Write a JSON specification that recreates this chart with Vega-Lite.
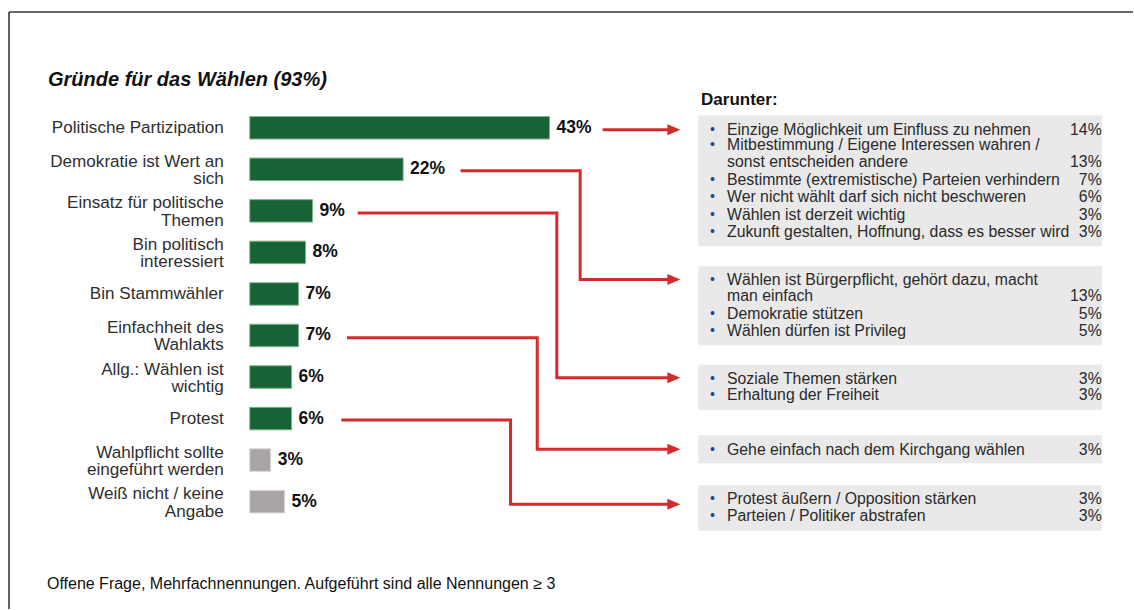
{
  "$schema": "https://vega.github.io/schema/vega-lite/v6.json",
  "width": 1134,
  "height": 610,
  "autosize": {"type": "fit", "contains": "padding"},
  "padding": 0,
  "background": "white",
  "config": {
    "view": {"stroke": null},
    "axis": {"disable": true},
    "text": {"font": "Liberation Sans"}
  },
  "datasets": {
    "bars": [
      {"label": "Politische Partizipation", "pct": 43, "rank": 0, "kind": "Grund"},
      {"label": "Demokratie ist Wert an\nsich", "pct": 22, "rank": 1, "kind": "Grund"},
      {"label": "Einsatz für politische\nThemen", "pct": 9, "rank": 2, "kind": "Grund"},
      {"label": "Bin politisch\ninteressiert", "pct": 8, "rank": 3, "kind": "Grund"},
      {"label": "Bin Stammwähler", "pct": 7, "rank": 4, "kind": "Grund"},
      {"label": "Einfachheit des\nWahlakts", "pct": 7, "rank": 5, "kind": "Grund"},
      {"label": "Allg.: Wählen ist\nwichtig", "pct": 6, "rank": 6, "kind": "Grund"},
      {"label": "Protest", "pct": 6, "rank": 7, "kind": "Grund"},
      {"label": "Wahlpflicht sollte\neingeführt werden", "pct": 3, "rank": 8, "kind": "Sonstige"},
      {"label": "Weiß nicht / keine\nAngabe", "pct": 5, "rank": 9, "kind": "Sonstige"}
    ],
    "boxes": [
      {"box": 1, "top": -0.296, "bottom": 2.853},
      {"box": 2, "top": 3.333, "bottom": 5.232},
      {"box": 3, "top": 5.696, "bottom": 6.794},
      {"box": 4, "top": 7.402, "bottom": 8.075},
      {"box": 5, "top": 8.604, "bottom": 9.702}
    ],
    "details": [
      {"box": 1, "text": "Einzige Möglichkeit um Einfluss zu nehmen", "share": 14, "bullet": true, "y": 0.048},
      {"box": 1, "text": "Mitbestimmung / Eigene Interessen wahren /", "share": null, "bullet": true, "y": 0.425},
      {"box": 1, "text": "sonst entscheiden andere", "share": 13, "bullet": false, "y": 0.834},
      {"box": 1, "text": "Bestimmte (extremistische) Parteien verhindern", "share": 7, "bullet": true, "y": 1.25},
      {"box": 1, "text": "Wer nicht wählt darf sich nicht beschweren", "share": 6, "bullet": true, "y": 1.675},
      {"box": 1, "text": "Wählen ist derzeit wichtig", "share": 3, "bullet": true, "y": 2.091},
      {"box": 1, "text": "Zukunft gestalten, Hoffnung, dass es besser wird", "share": 3, "bullet": true, "y": 2.516},
      {"box": 2, "text": "Wählen ist Bürgerpflicht, gehört dazu, macht", "share": null, "bullet": true, "y": 3.67},
      {"box": 2, "text": "man einfach", "share": 13, "bullet": false, "y": 4.061},
      {"box": 2, "text": "Demokratie stützen", "share": 5, "bullet": true, "y": 4.477},
      {"box": 2, "text": "Wählen dürfen ist Privileg", "share": 5, "bullet": true, "y": 4.895},
      {"box": 3, "text": "Soziale Themen stärken", "share": 3, "bullet": true, "y": 6.039},
      {"box": 3, "text": "Erhaltung der Freiheit", "share": 3, "bullet": true, "y": 6.434},
      {"box": 4, "text": "Gehe einfach nach dem Kirchgang wählen", "share": 3, "bullet": true, "y": 7.755},
      {"box": 5, "text": "Protest äußern / Opposition stärken", "share": 3, "bullet": true, "y": 8.94},
      {"box": 5, "text": "Parteien / Politiker abstrafen", "share": 3, "bullet": true, "y": 9.341}
    ],
    "arrows": [
      {"arrow": 1, "step": 1, "x": 50.62, "y": 0.048, "head": false},
      {"arrow": 1, "step": 2, "x": 60.84, "y": 0.048, "head": true},
      {"arrow": 2, "step": 1, "x": 30.24, "y": 1.033, "head": false},
      {"arrow": 2, "step": 2, "x": 47.4, "y": 1.033, "head": false},
      {"arrow": 2, "step": 3, "x": 47.4, "y": 3.653, "head": false},
      {"arrow": 2, "step": 4, "x": 60.84, "y": 3.653, "head": true},
      {"arrow": 3, "step": 1, "x": 15.48, "y": 2.05, "head": false},
      {"arrow": 3, "step": 2, "x": 44.05, "y": 2.05, "head": false},
      {"arrow": 3, "step": 3, "x": 44.05, "y": 6.015, "head": false},
      {"arrow": 3, "step": 4, "x": 60.84, "y": 6.015, "head": true},
      {"arrow": 4, "step": 1, "x": 13.95, "y": 5.054, "head": false},
      {"arrow": 4, "step": 2, "x": 41.24, "y": 5.054, "head": false},
      {"arrow": 4, "step": 3, "x": 41.24, "y": 7.739, "head": false},
      {"arrow": 4, "step": 4, "x": 60.84, "y": 7.739, "head": true},
      {"arrow": 5, "step": 1, "x": 13.14, "y": 7.034, "head": false},
      {"arrow": 5, "step": 2, "x": 37.41, "y": 7.034, "head": false},
      {"arrow": 5, "step": 3, "x": 37.41, "y": 9.06, "head": false},
      {"arrow": 5, "step": 4, "x": 60.84, "y": 9.06, "head": true}
    ]
  },
  "layer": [
    {
      "data": {"values": [{"part": "top"}]},
      "mark": {"type": "rule", "color": "#3a3a3a", "strokeWidth": 1.6},
      "encoding": {
        "x": {"datum": -34.54, "type": "quantitative", "scale": {"domain": [-35.833, 126.71], "nice": false, "zero": false, "padding": 0}},
        "x2": {"datum": 126.71},
        "y": {"datum": -2.788, "type": "quantitative", "scale": {"domain": [-3.0762, 11.5838], "nice": false, "zero": false, "reverse": true, "padding": 0}}
      }
    },
    {
      "data": {"values": [{"part": "left"}]},
      "mark": {"type": "rule", "color": "#3a3a3a", "strokeWidth": 1.6},
      "encoding": {
        "x": {"datum": -34.54, "type": "quantitative", "scale": {"domain": [-35.833, 126.71], "nice": false, "zero": false, "padding": 0}},
        "y": {"datum": -2.788, "type": "quantitative", "scale": {"domain": [-3.0762, 11.5838], "nice": false, "zero": false, "reverse": true, "padding": 0}},
        "y2": {"datum": 11.5838}
      }
    },
    {
      "data": {"name": "boxes"},
      "mark": {"type": "rect", "color": "#e9e9e9"},
      "encoding": {
        "x": {"datum": 64.36, "type": "quantitative", "scale": {"domain": [-35.833, 126.71], "nice": false, "zero": false, "padding": 0}},
        "x2": {"datum": 122.26},
        "y": {"field": "top", "type": "quantitative", "scale": {"domain": [-3.0762, 11.5838], "nice": false, "zero": false, "reverse": true, "padding": 0}},
        "y2": {"field": "bottom"}
      }
    },
    {
      "data": {"name": "bars"},
      "mark": {"type": "bar", "orient": "horizontal", "height": 22.5, "strokeWidth": 1},
      "encoding": {
        "x": {"field": "pct", "type": "quantitative", "scale": {"domain": [-35.833, 126.71], "nice": false, "zero": false, "padding": 0}},
        "x2": {"datum": 0},
        "y": {"field": "rank", "type": "quantitative", "scale": {"domain": [-3.0762, 11.5838], "nice": false, "zero": false, "reverse": true, "padding": 0}},
        "fill": {"field": "kind", "type": "nominal", "scale": {"domain": ["Grund", "Sonstige"], "range": ["#176336", "#a9a5a4"]}, "legend": null},
        "stroke": {"field": "kind", "type": "nominal", "scale": {"domain": ["Grund", "Sonstige"], "range": ["#7fb38a", "#d9d6d5"]}, "legend": null}
      }
    },
    {
      "data": {"name": "bars"},
      "transform": [{"calculate": "datum.pct + '%'", "as": "pctLabel"}],
      "mark": {"type": "text", "align": "left", "baseline": "middle", "dx": 7, "fontWeight": "bold", "fontSize": 17.5, "color": "#111111"},
      "encoding": {
        "x": {"field": "pct", "type": "quantitative", "scale": {"domain": [-35.833, 126.71], "nice": false, "zero": false, "padding": 0}},
        "y": {"field": "rank", "type": "quantitative", "scale": {"domain": [-3.0762, 11.5838], "nice": false, "zero": false, "reverse": true, "padding": 0}},
        "text": {"field": "pctLabel"}
      }
    },
    {
      "data": {"name": "bars"},
      "transform": [{"filter": "indexof(datum.label, '\\n') < 0"}],
      "mark": {"type": "text", "align": "right", "baseline": "middle", "fontSize": 17.1, "color": "#2e2e2e"},
      "encoding": {
        "x": {"datum": -3.73, "type": "quantitative", "scale": {"domain": [-35.833, 126.71], "nice": false, "zero": false, "padding": 0}},
        "y": {"field": "rank", "type": "quantitative", "scale": {"domain": [-3.0762, 11.5838], "nice": false, "zero": false, "reverse": true, "padding": 0}},
        "text": {"field": "label"}
      }
    },
    {
      "data": {"name": "bars"},
      "transform": [{"filter": "indexof(datum.label, '\\n') >= 0"}],
      "mark": {"type": "text", "align": "right", "baseline": "middle", "lineBreak": "\n", "lineHeight": 17.5, "dy": -7.5, "fontSize": 17.1, "color": "#2e2e2e"},
      "encoding": {
        "x": {"datum": -3.73, "type": "quantitative", "scale": {"domain": [-35.833, 126.71], "nice": false, "zero": false, "padding": 0}},
        "y": {"field": "rank", "type": "quantitative", "scale": {"domain": [-3.0762, 11.5838], "nice": false, "zero": false, "reverse": true, "padding": 0}},
        "text": {"field": "label"}
      }
    },
    {
      "data": {"name": "arrows"},
      "mark": {"type": "line", "color": "#d42a2e", "strokeWidth": 3, "strokeJoin": "miter", "strokeCap": "butt"},
      "encoding": {
        "x": {"field": "x", "type": "quantitative", "scale": {"domain": [-35.833, 126.71], "nice": false, "zero": false, "padding": 0}},
        "y": {"field": "y", "type": "quantitative", "scale": {"domain": [-3.0762, 11.5838], "nice": false, "zero": false, "reverse": true, "padding": 0}},
        "detail": {"field": "arrow", "type": "nominal"},
        "order": {"field": "step", "type": "quantitative"}
      }
    },
    {
      "data": {"name": "arrows"},
      "transform": [{"filter": "datum.head"}],
      "mark": {"type": "point", "shape": "M-1,-0.85L1,0L-1,0.85Z", "filled": true, "color": "#d42a2e", "size": 169, "opacity": 1},
      "encoding": {
        "x": {"field": "x", "type": "quantitative", "scale": {"domain": [-35.833, 126.71], "nice": false, "zero": false, "padding": 0}},
        "y": {"field": "y", "type": "quantitative", "scale": {"domain": [-3.0762, 11.5838], "nice": false, "zero": false, "reverse": true, "padding": 0}}
      }
    },
    {
      "data": {"name": "details"},
      "mark": {"type": "text", "align": "left", "baseline": "middle", "fontSize": 15.8, "color": "#2a2a2a"},
      "encoding": {
        "x": {"datum": 68.47, "type": "quantitative", "scale": {"domain": [-35.833, 126.71], "nice": false, "zero": false, "padding": 0}},
        "y": {"field": "y", "type": "quantitative", "scale": {"domain": [-3.0762, 11.5838], "nice": false, "zero": false, "reverse": true, "padding": 0}},
        "text": {"field": "text"}
      }
    },
    {
      "data": {"name": "details"},
      "transform": [{"filter": "datum.bullet"}],
      "mark": {"type": "text", "align": "center", "baseline": "middle", "fontSize": 14, "color": "#1f43a3", "text": "•"},
      "encoding": {
        "x": {"datum": 66.36, "type": "quantitative", "scale": {"domain": [-35.833, 126.71], "nice": false, "zero": false, "padding": 0}},
        "y": {"field": "y", "type": "quantitative", "scale": {"domain": [-3.0762, 11.5838], "nice": false, "zero": false, "reverse": true, "padding": 0}}
      }
    },
    {
      "data": {"name": "details"},
      "transform": [{"filter": "datum.share != null"}, {"calculate": "datum.share + '%'", "as": "shareLabel"}],
      "mark": {"type": "text", "align": "right", "baseline": "middle", "fontSize": 15.8, "color": "#2a2a2a"},
      "encoding": {
        "x": {"datum": 122.22, "type": "quantitative", "scale": {"domain": [-35.833, 126.71], "nice": false, "zero": false, "padding": 0}},
        "y": {"field": "y", "type": "quantitative", "scale": {"domain": [-3.0762, 11.5838], "nice": false, "zero": false, "reverse": true, "padding": 0}},
        "text": {"field": "shareLabel"}
      }
    },
    {
      "data": {"values": [{"t": "Gründe für das Wählen (93%)"}]},
      "mark": {"type": "text", "align": "left", "baseline": "middle", "fontSize": 20, "fontWeight": "bold", "fontStyle": "italic", "color": "#111111"},
      "encoding": {
        "x": {"datum": -28.95, "type": "quantitative", "scale": {"domain": [-35.833, 126.71], "nice": false, "zero": false, "padding": 0}},
        "y": {"datum": -1.154, "type": "quantitative", "scale": {"domain": [-3.0762, 11.5838], "nice": false, "zero": false, "reverse": true, "padding": 0}},
        "text": {"field": "t"}
      }
    },
    {
      "data": {"values": [{"t": "Darunter:"}]},
      "mark": {"type": "text", "align": "left", "baseline": "middle", "fontSize": 17, "fontWeight": "bold", "color": "#111111"},
      "encoding": {
        "x": {"datum": 64.74, "type": "quantitative", "scale": {"domain": [-35.833, 126.71], "nice": false, "zero": false, "padding": 0}},
        "y": {"datum": -0.673, "type": "quantitative", "scale": {"domain": [-3.0762, 11.5838], "nice": false, "zero": false, "reverse": true, "padding": 0}},
        "text": {"field": "t"}
      }
    },
    {
      "data": {"values": [{"t": "Offene Frage, Mehrfachnennungen. Aufgeführt sind alle Nennungen ≥ 3"}]},
      "mark": {"type": "text", "align": "left", "baseline": "middle", "fontSize": 16, "color": "#111111"},
      "encoding": {
        "x": {"datum": -29.1, "type": "quantitative", "scale": {"domain": [-35.833, 126.71], "nice": false, "zero": false, "padding": 0}},
        "y": {"datum": 10.983, "type": "quantitative", "scale": {"domain": [-3.0762, 11.5838], "nice": false, "zero": false, "reverse": true, "padding": 0}},
        "text": {"field": "t"}
      }
    }
  ]
}
